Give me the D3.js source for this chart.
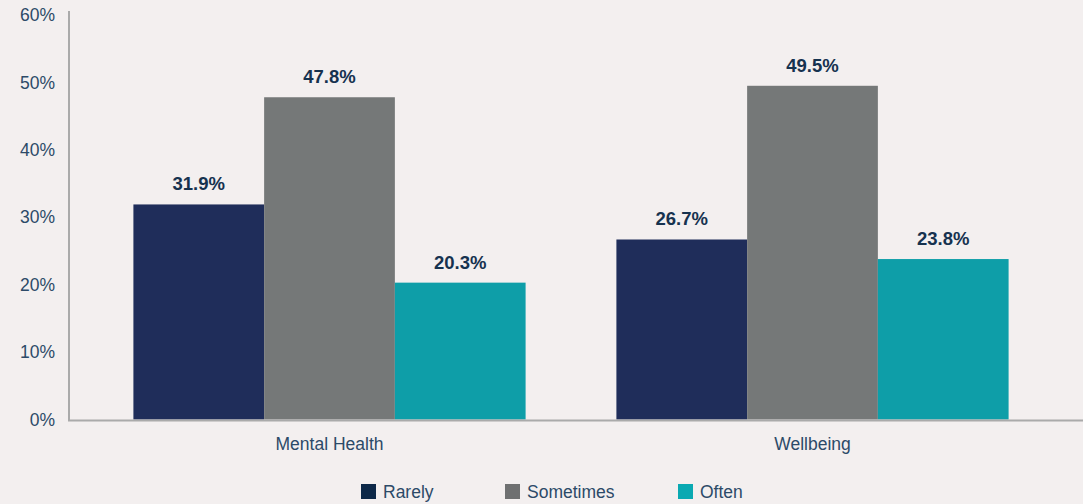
<!DOCTYPE html>
<html>
<head>
<meta charset="utf-8">
<script src="https://cdn.jsdelivr.net/npm/d3@7"></script>
<style>
  html, body { margin: 0; padding: 0; background: #f3efef; }
  svg { display: block; }
  text { font-family: "Liberation Sans", Arial, Helvetica, sans-serif; }
</style>
</head>
<body>
<svg id="chart" width="1083" height="504"></svg>
<script>
// Survey responses by topic (percent)
const categories = ["Mental Health", "Wellbeing"];
const seriesNames = ["Rarely", "Sometimes", "Often"];
const rarely = [31.9, 26.7];
const sometimes = [47.8, 49.5];
const often = [20.3, 23.8];
const yTicks = [0, 10, 20, 30, 40, 50, 60];

const seriesValues = [rarely, sometimes, often];
const colors = ["#1f2d5a", "#757878", "#0e9ea8"];
const legendColors = ["#0d2848", "#6f7071", "#0aa9b2"];

const W = 1083, H = 504;
const svg = d3.select("#chart");
svg.append("rect").attr("width", W).attr("height", H).attr("fill", "#f3efef");

const axisLeft = 69, axisBottom = 420;

const y = d3.scaleLinear().domain([0, 60]).range([419.5, 15]);

const x0 = d3.scaleBand()
  .domain(categories)
  .range([88, 1054])
  .paddingInner(0.188)
  .paddingOuter(0.094);

const x1 = d3.scaleBand()
  .domain(seriesNames)
  .range([0, x0.bandwidth()])
  .padding(0);

const rows = categories.map((c, i) => ({
  category: c,
  values: seriesNames.map((s, j) => ({ series: s, value: seriesValues[j][i], color: colors[j] }))
}));

// Bars
const groups = svg.append("g").selectAll("g")
  .data(rows)
  .join("g")
  .attr("transform", d => `translate(${x0(d.category)},0)`);

groups.selectAll("rect")
  .data(d => d.values)
  .join("rect")
  .attr("x", d => x1(d.series))
  .attr("width", x1.bandwidth())
  .attr("y", d => y(d.value))
  .attr("height", d => y(0) - y(d.value))
  .attr("fill", d => d.color);

// Value labels
groups.selectAll("text.val")
  .data(d => d.values)
  .join("text")
  .attr("class", "val")
  .attr("x", d => x1(d.series) + x1.bandwidth() / 2)
  .attr("y", d => y(d.value) - 14)
  .attr("text-anchor", "middle")
  .attr("font-size", 18.5)
  .attr("font-weight", "bold")
  .attr("fill", "#16324f")
  .text(d => d.value.toFixed(1) + "%");

// Y axis
const yAxis = d3.axisLeft(y)
  .tickValues(yTicks)
  .tickSize(0)
  .tickPadding(14)
  .tickFormat(d => d + "%");

const yg = svg.append("g")
  .attr("transform", `translate(${axisLeft},0)`)
  .call(yAxis);
yg.select(".domain").remove();
yg.selectAll("text")
  .attr("font-size", 17.5)
  .attr("fill", "#2c4a68")
  .attr("font-family", "'Liberation Sans', Arial, sans-serif");

svg.append("line")
  .attr("x1", axisLeft).attr("x2", axisLeft)
  .attr("y1", 11).attr("y2", axisBottom + 1)
  .attr("stroke", "#aaaaaa").attr("stroke-width", 2);

// X axis
const xAxis = d3.axisBottom(x0).tickSize(0).tickPadding(18);
const xg = svg.append("g")
  .attr("transform", `translate(0,${axisBottom})`)
  .call(xAxis);
xg.select(".domain").remove();
xg.selectAll("text")
  .attr("font-size", 17.5)
  .attr("fill", "#2c4a68")
  .attr("font-family", "'Liberation Sans', Arial, sans-serif");

svg.append("line")
  .attr("x1", axisLeft - 1).attr("x2", W)
  .attr("y1", axisBottom + 0.5).attr("y2", axisBottom + 0.5)
  .attr("stroke", "#aaaaaa").attr("stroke-width", 2);

// Legend
const legendX = [361, 505, 678];
const legend = svg.append("g").selectAll("g")
  .data(seriesNames)
  .join("g")
  .attr("transform", (d, i) => `translate(${legendX[i]},484)`);
legend.append("rect")
  .attr("width", 15).attr("height", 15)
  .attr("fill", (d, i) => legendColors[i]);
legend.append("text")
  .attr("x", 22).attr("y", 14)
  .attr("font-size", 17.5)
  .attr("fill", "#2c4a68")
  .text(d => d);
</script>
</body>
</html>
